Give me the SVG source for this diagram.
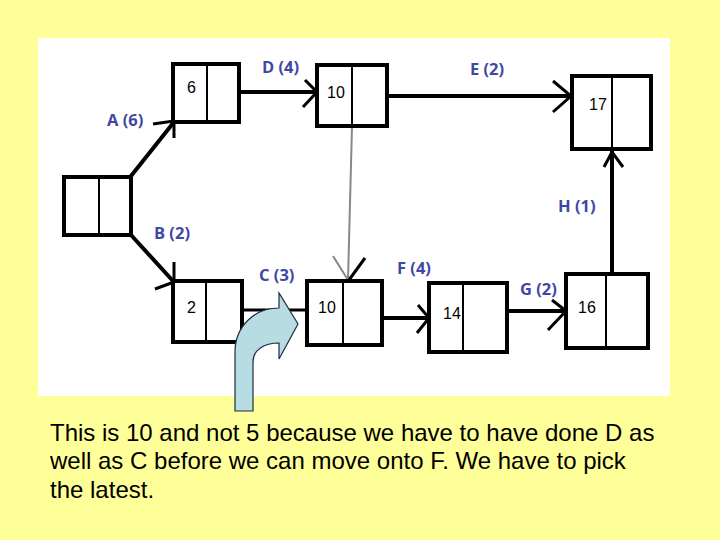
<svg xmlns="http://www.w3.org/2000/svg" width="720" height="540" viewBox="0 0 720 540">
<style>
.box{fill:#fff;stroke:#000;stroke-width:4}
.div{stroke:#000;stroke-width:2}
.num{font-family:"Liberation Sans",Arial,sans-serif;font-size:16px;fill:#000}
.lbl{font-family:"Open Sans","Liberation Sans",sans-serif;font-weight:bold;font-size:16.5px;fill:#3f48a3}
.ln{stroke:#000;stroke-width:4;fill:none;stroke-linecap:round}
.tk{stroke:#000;stroke-width:3;fill:none}
.txt{font-family:"Liberation Sans",Arial,sans-serif;font-size:24px;fill:#000}
</style>
<rect x="0" y="0" width="720" height="540" fill="#ffff99"/>
<rect x="38" y="38" width="632" height="358" fill="#fff"/>
<g id="connectors">
<line class="ln" x1="131" y1="176" x2="174" y2="122"/>
<line class="tk" x1="153" y1="124" x2="174" y2="121"/>
<line class="tk" x1="174" y1="122" x2="174" y2="138"/>
<line class="ln" x1="131" y1="235" x2="173" y2="281"/>
<line class="tk" x1="155" y1="289" x2="174" y2="282"/>
<line class="tk" x1="174" y1="262" x2="174" y2="282"/>
<line class="ln" x1="239" y1="92" x2="316" y2="92"/>
<polyline class="tk" points="305,80 317,92 303,107"/>
<line class="ln" x1="387" y1="96" x2="570" y2="96"/>
<polyline class="tk" points="553,81 571,96 553,112"/>
<line class="ln" x1="612" y1="274" x2="612" y2="151"/>
<polyline class="tk" points="604,167 612,152 623,167"/>
<line stroke="#000" stroke-width="3" x1="242" y1="310" x2="307" y2="310"/>
<line stroke="#888" stroke-width="2" x1="352" y1="126" x2="348" y2="280"/>
<line stroke="#888" stroke-width="2" x1="333" y1="256" x2="348" y2="280"/>
<line class="tk" x1="365" y1="258" x2="349" y2="280"/>
<line class="ln" x1="382" y1="318" x2="428" y2="318"/>
<polyline class="tk" points="418,305 429,318 417,333"/>
<line class="ln" x1="507" y1="311" x2="565" y2="311"/>
<polyline class="tk" points="552,300 566,311 548,330"/>
</g>
<g id="start">
<rect class="box" x="64" y="177" width="67" height="58"/>
<line class="div" x1="99" y1="177" x2="99" y2="235"/>
</g>
<g id="n6">
<rect class="box" x="173" y="64" width="66" height="58"/>
<line class="div" x1="207" y1="64" x2="207" y2="124"/>
<text class="num" x="187" y="93">6</text>
</g>
<g id="n10top">
<rect class="box" x="317" y="65" width="70" height="61"/>
<line class="div" x1="352" y1="65" x2="352" y2="126"/>
<text class="num" x="327" y="98">10</text>
</g>
<g id="n17">
<rect class="box" x="572" y="76" width="79" height="73"/>
<line class="div" x1="612" y1="76" x2="612" y2="149"/>
<text class="num" x="589" y="110">17</text>
</g>
<g id="n2">
<rect class="box" x="173" y="281" width="69" height="61"/>
<line class="div" x1="206" y1="281" x2="206" y2="342"/>
<text class="num" x="187" y="313">2</text>
</g>
<g id="n10bot">
<rect class="box" x="307" y="281" width="75" height="64"/>
<line class="div" x1="343" y1="281" x2="343" y2="345"/>
<text class="num" x="318" y="313">10</text>
</g>
<g id="n14">
<rect class="box" x="429" y="283" width="78" height="69"/>
<line class="div" x1="463" y1="283" x2="463" y2="353"/>
<text class="num" x="443" y="319">14</text>
</g>
<g id="n16">
<rect class="box" x="566" y="274" width="82" height="74"/>
<line class="div" x1="606" y1="274" x2="606" y2="348"/>
<text class="num" x="578" y="313">16</text>
</g>
<g id="labels">
<text class="lbl" x="262" y="73">D (4)</text>
<text class="lbl" x="470" y="75">E (2)</text>
<text class="lbl" x="107" y="126">A (6)</text>
<text class="lbl" x="154" y="239">B (2)</text>
<text class="lbl" x="259" y="281">C (3)</text>
<text class="lbl" x="397" y="274">F (4)</text>
<text class="lbl" x="520" y="295">G (2)</text>
<text class="lbl" x="558" y="212">H (1)</text>
</g>
<g id="bent-arrow">
<path d="M235,411 L235,352 C235,326 255,308 279,308 L279,293 L298,324 L279,359 L279,343 C264,343 253,350 253,362 L253,411 Z" fill="#b7dde3" stroke="#1f2a44" stroke-width="1.2"/>
</g>
<text class="txt" x="50" y="441">This is 10 and not 5 because we have to have done D as</text>
<text class="txt" x="50" y="469">well as C before we can move onto F. We have to pick</text>
<text class="txt" x="50" y="498">the latest.</text>
</svg>
